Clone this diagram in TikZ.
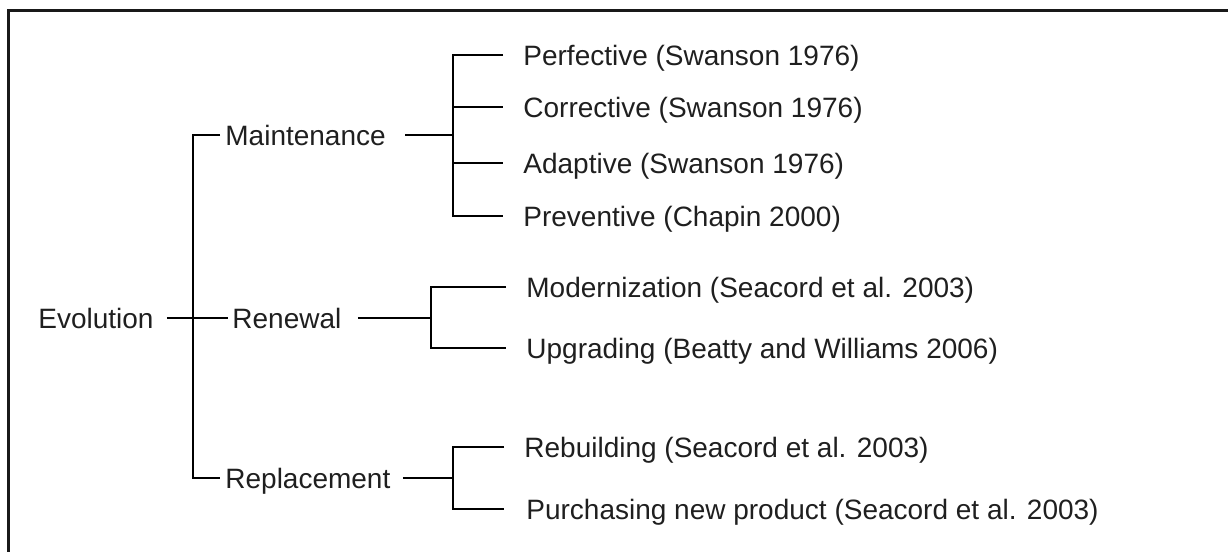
\documentclass[tikz,border=0pt]{standalone}
\usepackage{fontspec}
\setmainfont{Liberation Sans}
\begin{document}
\begin{tikzpicture}[x=0.5pt,y=-0.5pt,
  lbl/.style={anchor=west,inner sep=0pt,text height=10pt,text depth=0pt,
    font=\fontsize{14pt}{16pt}\selectfont,text=black!88},
  link/.style={line width=1pt,black}]
\useasboundingbox (0,0) rectangle (1228,552);
% frame (top and left edges)
\draw[line width=1.3pt,black!90] (8.3,552) -- (8.3,10.5) -- (1228,10.5);

% root and first level
\node[lbl] (ev) at (38,318) {Evolution};
\node[lbl] (mt) at (225,135) {Maintenance};
\node[lbl] (rn) at (232,318) {Renewal};
\node[lbl] (rp) at (225,478) {Replacement};

% maintenance leaves
\node[lbl] (pf) at (523,55) {Perfective (Swanson 1976)};
\node[lbl] (cr) at (523,107) {Corrective (Swanson 1976)};
\node[lbl] (ad) at (523,163) {Adaptive (Swanson 1976)};
\node[lbl] (pv) at (523,216) {Preventive (Chapin 2000)};

% renewal leaves
\node[lbl] (mo) at (526,287) {Modernization (Seacord et al. 2003)};
\node[lbl] (up) at (526,348) {Upgrading (Beatty and Williams 2006)};

% replacement leaves
\node[lbl] (rb) at (524,447) {Rebuilding (Seacord et al. 2003)};
\node[lbl] (pu) at (526,509) {Purchasing new product (Seacord et al. 2003)};

% junction columns
\coordinate (trunk) at (193,318);
\coordinate (mj) at (453,135);
\coordinate (nj) at (431,318);
\coordinate (pj) at (453,478);

% trunk
\draw[link] ([xshift=-2.5pt]mt.west) -| (trunk |- rp.west) -- ([xshift=-2.5pt]rp.west);
\draw[link] ([xshift=6.5pt]ev.east) -- ([xshift=-2pt]rn.west);

% maintenance bracket
\draw[link] ([xshift=9.5pt]mt.east) -- (mj);
\draw[link] ([xshift=-10pt]pf.west) -| (mj |- pv.west) -- ([xshift=-10pt]pv.west);
\draw[link] (mj |- cr.west) -- ([xshift=-10pt]cr.west);
\draw[link] (mj |- ad.west) -- ([xshift=-10pt]ad.west);

% renewal bracket
\draw[link] ([xshift=8pt]rn.east) -- (nj);
\draw[link] ([xshift=-10pt]mo.west) -| (nj |- up.west) -- ([xshift=-10pt]up.west);

% replacement bracket
\draw[link] ([xshift=6pt]rp.east) -- (pj);
\draw[link] ([xshift=-10pt]rb.west) -| (pj |- pu.west) -- ([xshift=-11pt]pu.west);
\end{tikzpicture}
\end{document}
